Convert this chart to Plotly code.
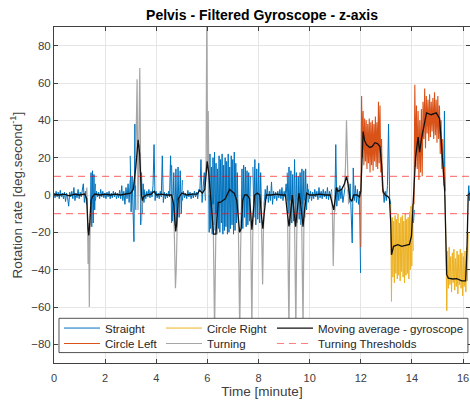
import numpy as np
import plotly.graph_objects as go

# ---------------- data ----------------
# each segment: (start minute, end minute, sampled rotation-rate values)
STRAIGHT = [
    (0.00, 1.27, [1, -1.5, 2, -1, 1.5, -2, 2.5, -1, 1, -2, 1.5, -3.5, 1, -1.5, -6, 1.5, -1, 2, -2, 4,
                  -3, 1, -1.5, 3, -2, 1.5, -1, 2, 6, -4, 2, -5]),
    (1.42, 1.62, [-12, 12, -17, 13, -15, 11, -8, 6]),
    (1.62, 2.98, [-3, 2, -1, 1.5, -2, 3, -1, 2, -1.5, 1, -2, 1.5, -1, 2, -2, 1, -1.5, 2, -1, 1.5,
                  -2, 1, -1.5, 2.5, -2, 5, -3, 2, -5, 4, -2, 6, -4, 8]),
    (2.98, 3.20, [21, -9, 10, -4, -25, 38, -8]),
    (3.36, 3.55, [27, -16, 12, -10, 6, -4, 3]),
    (3.55, 4.60, [1.5, -2, 2, -1, 3, -1.5, 2, -1, 5, 27, -3, 2, -1.5, 1, -2, 2, -1, 21, -4, 1.5,
                  -2, 1, -1.5, 2, -1, 21, -15]),
    (4.60, 5.02, [16, -14, 12, -16, 14, -17, 15, -12, 13, -10, 8]),
    (5.02, 5.92, [-3, 2, -1.5, 1, -2, 2.5, -1, 1.5, -2, 1, -1.5, 2, -1, 1.5, -2, 3, 2, 19, -4, 5,
                  12, -3]),
    (6.04, 7.20, [18, -20, 22, -18, 15, -21, 20, -16, 23, -19, 17, -21, 14, -18, 21, -20, 19, -15,
                  22, -21, 16, -19, 20, -17, 18, -21, 22, -20, 15, -18, 21, -16, 19, -21, 23, -19,
                  17, -15, 12, -10]),
    (7.32, 7.68, [-15, 14, -18, 16, -12, 15, -17, 13, -16, 12, -14, 10]),
    (7.78, 8.12, [15, -12, 19, -16, 14, -13, 17, -15, 12, -10]),
    (8.22, 9.12, [-6, 3, -2, 5, -4, 2, -3, 7, -5, 2, -2, 1.5, -3, 2, -1.5, 3, -2, 4, -3, 2, -1, 6, -3]),
    (9.12, 9.95, [12, -10, 15, -16, 13, -15, 11, -14, 19, -16, 12, -15, 10, -13, 12, -16, 14, -15,
                  13, -12, 14, -8, 6, -4]),
    (9.95, 10.86, [3, -2, 2, -3, 1.5, -2, 3, -1, 2, -2.5, 4, -1.5, 2, -2, 3, -1, 2, -2, 4, -2.5, 2,
                   -1.5, 3]),
    (10.98, 11.38, [-9, 27, -6, 4, -3, 5, -2, 3, -4, 2, 4]),
    (11.50, 11.99, [3, -4, 6, -8, -25.7, 14.5, -3, 5, -4, 3, -5, 2, -41.8]),
    (12.87, 13.17, [3, -4, 2, -3, 5, 38, -2, -5]),
    (14.03, 14.09, [-12, -15, -8]),
    (15.25, 15.29, [5, 45, 3]),
    (16.20, 16.27, [0, 5, -3, 2]),
]

CIRCLE_LEFT = [
    (12.00, 12.87, [-28, 53, 20, 45, 16, 41, 18, 40, 14, 38, 17, 41, 12, 39, 16, 40, 13, 38, 18, 42,
                    15, 39, 14, 50, 17, 48, 12, 30, 5, 1]),
    (14.08, 15.30, [-5, 59, 15, 48, 14, 45, 8, 40, 12, 46, 10, 50, 30, 57, 25, 53, 33, 51, 29, 54,
                    31, 50, 34, 52, 30, 55, 32, 51, 28, 53, 30, 48, 22, 40, 14, 30, 8, 15, 2]),
]

CIRCLE_RIGHT = [
    (13.17, 14.05, [-5, -57, -12, -44, -14, -47, -11, -42, -13, -45, -10, -43, -15, -46, -12, -41,
                    -11, -44, -14, -47, -10, -43, -13, -42, -12, -45, -9, -40, -6, -38, -5, -30]),
    (15.30, 16.20, [0, -40, -62, -30, -50, -28, -48, -33, -52, -31, -47, -29, -51, -34, -49, -30,
                    -53, -32, -48, -29, -50, -31, -54, -33, -49, -30, -52, -28, -46, -20]),
]

TURNING = [
    (1.26, 1.43, [0, 4, -10, -37, -15, -60, -25, -5]),
    (3.18, 3.46, [5, 25, 62, -8, 40, 68, 10, -14, 0]),
    (4.66, 4.84, [0, -10, -30, -50, -40, -15, -3]),
    (5.92, 6.06, [5, 18, 100, 16, 45, 0]),
    (6.22, 6.34, [-5, -30, -75, -40, -10]),
    (7.20, 7.33, [-5, -40, -75, -30, -8]),
    (7.68, 7.80, [-5, -35, -72, -25, -5]),
    (8.10, 8.22, [-5, -30, -48, -20, -3]),
    (9.13, 9.25, [-5, -40, -75, -20, -3]),
    (9.40, 9.52, [-5, -35, -74, -25, -3]),
    (9.68, 9.80, [-5, -40, -73, -20, -3]),
    (10.86, 10.98, [2, -10, -38, -20, 0]),
    (11.36, 11.52, [3, 15, 40, 10, -5]),
]

MA_TIME = [0, 0.2, 0.4, 0.6, 0.8, 1.0, 1.2, 1.28, 1.33, 1.36, 1.4, 1.45, 1.5, 1.6, 1.8, 2.0, 2.2,
           2.4, 2.6, 2.8, 3.0, 3.1, 3.2, 3.29, 3.35, 3.42, 3.46, 3.5, 3.6, 3.8, 3.92, 4.0, 4.2, 4.4,
           4.6, 4.68, 4.76, 4.8, 4.86, 4.95, 5.0, 5.2, 5.4, 5.6, 5.7, 5.8, 5.9, 5.99, 6.05, 6.12,
           6.2, 6.24, 6.33, 6.38, 6.42, 6.5, 6.6, 6.7, 6.8, 6.87, 6.95, 7.05, 7.15, 7.22, 7.26,
           7.32, 7.38, 7.45, 7.55, 7.65, 7.7, 7.74, 7.78, 7.85, 7.95, 8.05, 8.12, 8.17, 8.22, 8.3,
           8.5, 8.7, 8.9, 9.05, 9.13, 9.19, 9.25, 9.32, 9.38, 9.45, 9.5, 9.58, 9.65, 9.74, 9.8,
           9.88, 10.0, 10.2, 10.4, 10.6, 10.8, 10.88, 10.94, 11.0, 11.04, 11.1, 11.25, 11.36,
           11.44, 11.5, 11.58, 11.65, 11.72, 11.85, 11.95, 12.0, 12.05, 12.09, 12.15, 12.22,
           12.35, 12.45, 12.55, 12.65, 12.75, 12.82, 12.87, 12.95, 13.05, 13.12, 13.17, 13.2,
           13.28, 13.45, 13.6, 13.75, 13.9, 13.98, 14.03, 14.08, 14.14, 14.24, 14.3, 14.37, 14.43,
           14.57, 14.75, 14.95, 15.08, 15.15, 15.22, 15.28, 15.32, 15.36, 15.42, 15.6, 15.75,
           15.95, 16.1, 16.15, 16.2, 16.27]
MA_VALUE = [0.5, 0, 0.5, -0.5, 0.5, 0, 0.5, -2, -18, -21.6, -15, -3, -1, 0.5, 0, 0.5, 0, 0.5, 0,
            0.5, 1, 3, 15, 29.6, 22, 0, -3, -1, 0, 0.5, 2, 0, 0.5, 0, 0, -5, -19.5, -15, -2, 0, 1,
            0, 0.5, 0.5, 2.5, 1, 3, 18, 12, 0, -12, -21, -21, -8, -4, -4, -3, -2, 1, 3, 2, 1, -3,
            -15, -20, -18, -3, 0, 0, -2, -12, -18.6, -12, 0, 1, 0, -12, -18, -10, 0, 0, 0.5, 0, 0,
            -10, -16.8, -10, 0, -8, -17, -10, 1, -5, -17, -8, 1, 0, 0, 0.5, 0, 0, -4, -8, -2, 4,
            2, 3, 6, 10, 6, -2, -3.4, 0, 0, -1, 2, 20, 34, 29, 27, 25.5, 26, 28, 27.5, 26, 15, 2,
            0, -0.7, -2, -15, -32, -27.5, -26.6, -27.5, -27, -26.5, -22, -8, 2, 20, 31, 23, 30,
            34, 44, 43, 44, 41, 30, 14.5, 2, -20, -42.7, -44.5, -45, -44.8, -46, -46, -30, 0, 1]

THRESHOLD = 10
X_TICKS = list(range(0, 17, 2))
Y_TICKS = list(range(-80, 81, 20))
X_RANGE = [0, 16.27]
Y_RANGE = [-90, 90]

FONT = "Liberation Sans, Arial, Helvetica, sans-serif"


def build(segments):
    xs, ys = [], []
    for start, end, vals in segments:
        t = np.linspace(start, end, len(vals))
        xs.extend(t.tolist())
        ys.extend(vals)
        xs.append(None)
        ys.append(None)
    return xs, ys


fig = go.Figure()

sx, sy = build(STRAIGHT)
lx, ly = build(CIRCLE_LEFT)
rx, ry = build(CIRCLE_RIGHT)
tx, ty = build(TURNING)

fig.add_trace(go.Scatter(x=sx, y=sy, mode="lines", name="Straight",
                         line=dict(color="#0072BD", width=1), legend="legend2"))
fig.add_trace(go.Scatter(x=lx, y=ly, mode="lines", name="Circle Left",
                         line=dict(color="#D95319", width=1.1), legend="legend5"))
fig.add_trace(go.Scatter(x=rx, y=ry, mode="lines", name="Circle Right",
                         line=dict(color="#EDB120", width=1), legend="legend3"))
fig.add_trace(go.Scatter(x=tx, y=ty, mode="lines", name="Turning",
                         line=dict(color="#A6A6A6", width=1.2), legend="legend6"))
fig.add_trace(go.Scatter(x=MA_TIME, y=MA_VALUE, mode="lines", name="Moving average - gyroscope",
                         line=dict(color="#111111", width=1.3), legend="legend4"))
fig.add_trace(go.Scatter(x=[X_RANGE[0], X_RANGE[1], None, X_RANGE[0], X_RANGE[1]],
                         y=[THRESHOLD, THRESHOLD, None, -THRESHOLD, -THRESHOLD],
                         mode="lines", name="Turning Thresholds",
                         line=dict(color="rgba(255,0,0,0.5)", width=1.2, dash="7px,5px"),
                         legend="legend7"))

# legend box (white, opaque)
fig.add_shape(type="rect", xref="paper", yref="paper", x0=0.012, x1=0.995, y0=0.031, y1=0.133,
              fillcolor="white", line=dict(color="#262626", width=0.8), layer="above")

leg_common = dict(bgcolor="rgba(0,0,0,0)", borderwidth=0, xanchor="left", yanchor="middle",
                  orientation="v", itemwidth=36, visible=True,
                  font=dict(family=FONT, size=11.5, color="#262626"))
col_x = [0.012, 0.2572, 0.524]
row_y = [0.104, 0.058]

fig.update_layout(
    width=470, height=400,
    showlegend=True,
    margin=dict(l=54, r=0, t=27, b=37),
    paper_bgcolor="white", plot_bgcolor="white",
    font=dict(family=FONT, size=11, color="#262626"),
    title=dict(text="<b>Pelvis - Filtered Gyroscope - z-axis</b>", x=0.5, xref="paper",
               y=1 - 15.5 / 400, yref="container", xanchor="center", yanchor="middle",
               font=dict(family=FONT, size=14, color="#000000")),
    legend2=dict(x=col_x[0], y=row_y[0], **leg_common),
    legend3=dict(x=col_x[1], y=row_y[0], **leg_common),
    legend4=dict(x=col_x[2], y=row_y[0], **leg_common),
    legend5=dict(x=col_x[0], y=row_y[1], **leg_common),
    legend6=dict(x=col_x[1], y=row_y[1], **leg_common),
    legend7=dict(x=col_x[2], y=row_y[1], **leg_common),
    xaxis=dict(range=X_RANGE, tickvals=X_TICKS, ticks="inside", ticklen=4, tickwidth=1,
               tickcolor="#404040", showline=True, linecolor="#404040", linewidth=1,
               mirror="ticks", showgrid=True, gridcolor="#E5E5E5", gridwidth=1, zeroline=False,
               tickfont=dict(size=11, color="#404040"), ticklabelstandoff=5,
               title=dict(text="Time [minute]", font=dict(size=13.5, color="#404040"), standoff=3)),
    yaxis=dict(range=Y_RANGE, tickvals=Y_TICKS, ticks="inside", ticklen=4, tickwidth=1,
               tickcolor="#404040", showline=True, linecolor="#404040", linewidth=1,
               mirror="ticks", showgrid=True, gridcolor="#E5E5E5", gridwidth=1, zeroline=False,
               tickfont=dict(size=11.5, color="#404040"),
               title=dict(text="Rotation rate [deg.second<sup>-1</sup>]",
                          font=dict(size=13.5, color="#404040"), standoff=5)),
)

fig.write_html("out.html")
